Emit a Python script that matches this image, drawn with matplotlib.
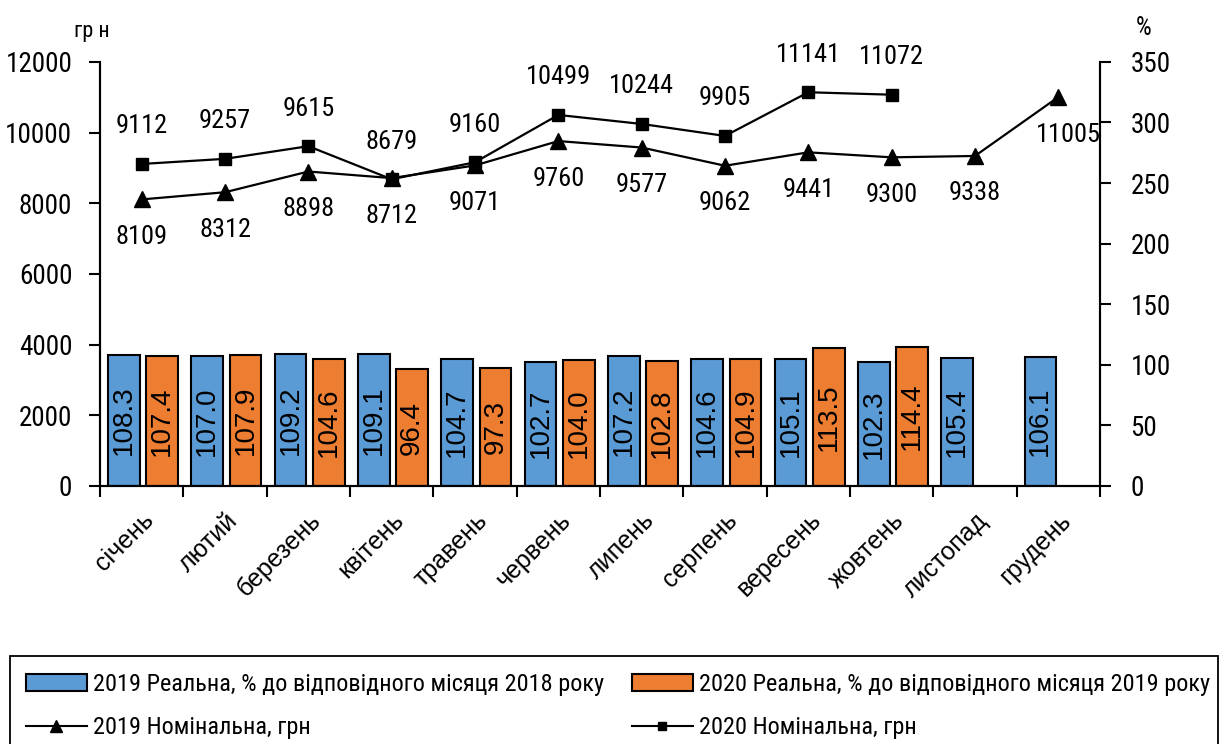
import numpy as np
import matplotlib.pyplot as plt
from matplotlib.patches import Patch, Rectangle
from matplotlib.lines import Line2D

NARROW = ['Roboto Condensed', 'PT Sans Narrow', 'DejaVu Sans']
REGULAR = ['Liberation Sans', 'DejaVu Sans']
plt.rcParams['font.family'] = NARROW

months = ['січень', 'лютий', 'березень', 'квітень', 'травень', 'червень',
          'липень', 'серпень', 'вересень', 'жовтень', 'листопад', 'грудень']
real_2019 = [108.3, 107.0, 109.2, 109.1, 104.7, 102.7, 107.2, 104.6, 105.1, 102.3, 105.4, 106.1]
real_2020 = [107.4, 107.9, 104.6, 96.4, 97.3, 104.0, 102.8, 104.9, 113.5, 114.4]
nom_2019 = [8109, 8312, 8898, 8712, 9071, 9760, 9577, 9062, 9441, 9300, 9338, 11005]
nom_2020 = [9112, 9257, 9615, 8679, 9160, 10499, 10244, 9905, 11141, 11072]

label_2019 = '2019 Реальна, % до відповідного місяця 2018 року'
label_2020 = '2020 Реальна, % до відповідного місяця 2019 року'

BLUE = '#5B9BD5'
ORANGE = '#ED7D31'

fig = plt.figure(figsize=(12.2, 7.44), dpi=100)
ax = fig.add_axes([0.082, 0.3468, 0.8196, 0.57])
ax2 = ax.twinx()

x = np.arange(len(months))
x20 = np.arange(len(real_2020))
w = 0.38
off19, off20 = -0.215, 0.245

# bars on percent scale (right axis)
ax.bar(x + off19, real_2019, w, color=BLUE, edgecolor='black', linewidth=1.5)
ax.bar(x20 + off20, real_2020, w, color=ORANGE, edgecolor='black', linewidth=1.5)
for xi, v in zip(x, real_2019):
    ax.text(xi + off19, v / 2, f'{v:.1f}', rotation=90, ha='center', va='center',
            fontsize=20, family=REGULAR)
for xi, v in zip(x20, real_2020):
    ax.text(xi + off20, v / 2, f'{v:.1f}', rotation=90, ha='center', va='center',
            fontsize=20, family=REGULAR)

ax.set_ylim(0, 350)
ax.set_yticks(np.arange(0, 351, 50))
ax.yaxis.tick_right()
ax.set_xlim(-0.5, len(months) - 0.5)

# lines on hryvnia scale (left axis)
ax2.plot(x, nom_2019, color='black', lw=1.6, marker='^', ms=12)
ax2.plot(x20, nom_2020, color='black', lw=1.6, marker='s', ms=9)
ax2.set_ylim(0, 12000)
ax2.set_yticks(np.arange(0, 12001, 2000))
ax2.yaxis.tick_left()

for i, v in enumerate(nom_2020):
    ax2.annotate(str(v), (i, v), xytext=(0, 27), textcoords='offset points',
                 ha='center', va='center', fontsize=19)
for i, v in enumerate(nom_2019):
    dx = 7 if i == len(nom_2019) - 1 else 0
    ax2.annotate(str(v), (i, v), xytext=(dx, -27), textcoords='offset points',
                 ha='center', va='center', fontsize=19)

# axes styling
for a in (ax, ax2):
    a.spines['top'].set_visible(False)
    for s in ('left', 'right', 'bottom'):
        a.spines[s].set_linewidth(1.5)
ax.tick_params(axis='y', direction='out', length=8, width=1.5, labelsize=19.5, pad=14)
ax2.tick_params(axis='y', direction='out', length=8, width=1.5, labelsize=19.5, pad=12)

ax.set_xticks(x)
ax.set_xticklabels(months, rotation=45, ha='right', rotation_mode='anchor',
                   fontsize=18, family=REGULAR)
ax.tick_params(axis='x', which='major', length=0, pad=16)
ax.set_xticks(np.arange(-0.5, len(months), 1), minor=True)
ax.tick_params(axis='x', which='minor', direction='out', length=8, width=1.5)

fig.text(0.075, 0.958, 'гр н', fontsize=16, ha='center', va='center')
fig.text(0.937, 0.962, '%', fontsize=18, ha='center', va='center')

# legend: one frame, two columns
fig.patches.append(Rectangle((0.0082, -0.02), 0.99, 0.138, transform=fig.transFigure,
                             facecolor='white', edgecolor='black', linewidth=1.3))
col1 = [
    Patch(facecolor=BLUE, edgecolor='black', linewidth=1.5, label=label_2019),
    Line2D([], [], color='black', lw=1.5, marker='^', ms=8, label='2019 Номінальна, грн'),
]
col2 = [
    Patch(facecolor=ORANGE, edgecolor='black', linewidth=1.5, label=label_2020),
    Line2D([], [], color='black', lw=1.5, marker='s', ms=6, label='2020 Номінальна, грн'),
]
leg_kw = dict(loc='upper left', fontsize=17.5, frameon=False, handlelength=2.5,
              handletextpad=0.25, labelspacing=0.85, borderpad=0, borderaxespad=0)
fig.legend(handles=col1, bbox_to_anchor=(0.0213, 0.096), **leg_kw)
fig.legend(handles=col2, bbox_to_anchor=(0.518, 0.096), **leg_kw)

fig.savefig('out.png', dpi=100)
